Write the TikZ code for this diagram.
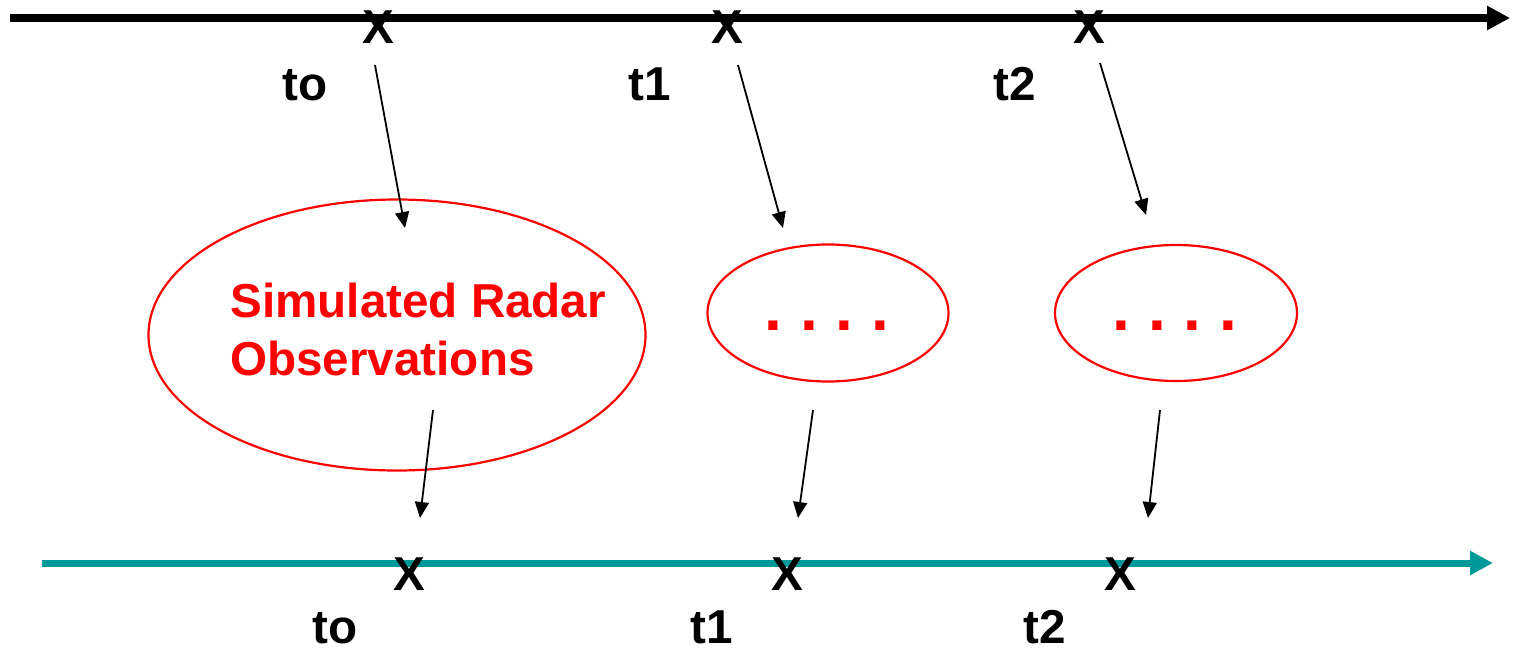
\documentclass[tikz,border=0pt]{standalone}
\usepackage{fontspec}
\setmainfont{Liberation Sans}
\usepackage{xcolor}
\usetikzlibrary{shapes.geometric,arrows.meta}
\definecolor{axisteal}{RGB}{0,153,153}
\definecolor{obsred}{RGB}{255,0,0}

\begin{document}
\begin{tikzpicture}[x=0.5pt, y=-0.5pt, font=\fontsize{23.8}{29}\selectfont\bfseries,
  xmark/.style={anchor=base, inner sep=0pt},
  lbl/.style={anchor=base, inner sep=0pt},
  ell/.style={draw=obsred, ellipse, line width=1.1pt, inner sep=0pt},
  reddots/.style={anchor=base, inner sep=0pt, text=obsred, font=\fontsize{32}{36}\selectfont\bfseries\frenchspacing},
  arr/.style={-{Triangle[length=8pt, width=7pt]}, line width=0.9pt},
  timeaxis/.style={-{Triangle[length=11.5pt, width=11.5pt]}}]
\useasboundingbox (0,0) rectangle (1515,653);
% time axes
\coordinate (topL) at (10,18);
\coordinate (topR) at (1510,18);
\coordinate (botL) at (42,563);
\coordinate (botR) at (1493,563);
\draw[timeaxis, line width=4pt] (topL) -- (topR);
\draw[timeaxis, line width=3.5pt, draw=axisteal, fill=axisteal] (botL) -- (botR);
% marks on the upper axis
\node[xmark] (xa0) at (378,43) {X};
\node[xmark] (xa1) at (727,43) {X};
\node[xmark] (xa2) at (1089,43) {X};
\node[lbl] (la0) at (305,100) {to};
\node[lbl] (la1) at (650,100) {t1};
\node[lbl] (la2) at (1015,100) {t2};
% observations
\node[ell, minimum width=248.5pt, minimum height=135.5pt] (obs0) at (397,335) {};
\node[ell, minimum width=120.5pt, minimum height=68.5pt] (obs1) at (828,313) {};
\node[ell, minimum width=121pt, minimum height=68pt] (obs2) at (1176,313) {};
\node[anchor=base west, inner sep=0pt, align=left, text=obsred] (simtxt) at (230,375) {Simulated Radar\\Observations};
\node[reddots] (dt1) at (827,330) {. . . .};
\node[reddots] (dt2) at (1175,330) {. . . .};
% marks on the lower axis
\node[xmark] (xb0) at (409,590) {X};
\node[xmark] (xb1) at (787,590) {X};
\node[xmark] (xb2) at (1120,590) {X};
\node[lbl] (lb0) at (335,643) {to};
\node[lbl] (lb1) at (712,643) {t1};
\node[lbl] (lb2) at (1045,643) {t2};
% arrows
\coordinate (s0) at (375,65);  \coordinate (e0) at (405,228);
\coordinate (s1) at (738,65);  \coordinate (e1) at (783,228);
\coordinate (s2) at (1100,63); \coordinate (e2) at (1146,215);
\coordinate (u0) at (433,410); \coordinate (v0) at (420,518);
\coordinate (u1) at (813,410); \coordinate (v1) at (798,518);
\coordinate (u2) at (1160,410); \coordinate (v2) at (1148,518);
\draw[arr] (s0) -- (e0);
\draw[arr] (s1) -- (e1);
\draw[arr] (s2) -- (e2);
\draw[arr] (u0) -- (v0);
\draw[arr] (u1) -- (v1);
\draw[arr] (u2) -- (v2);
\end{tikzpicture}
\end{document}
